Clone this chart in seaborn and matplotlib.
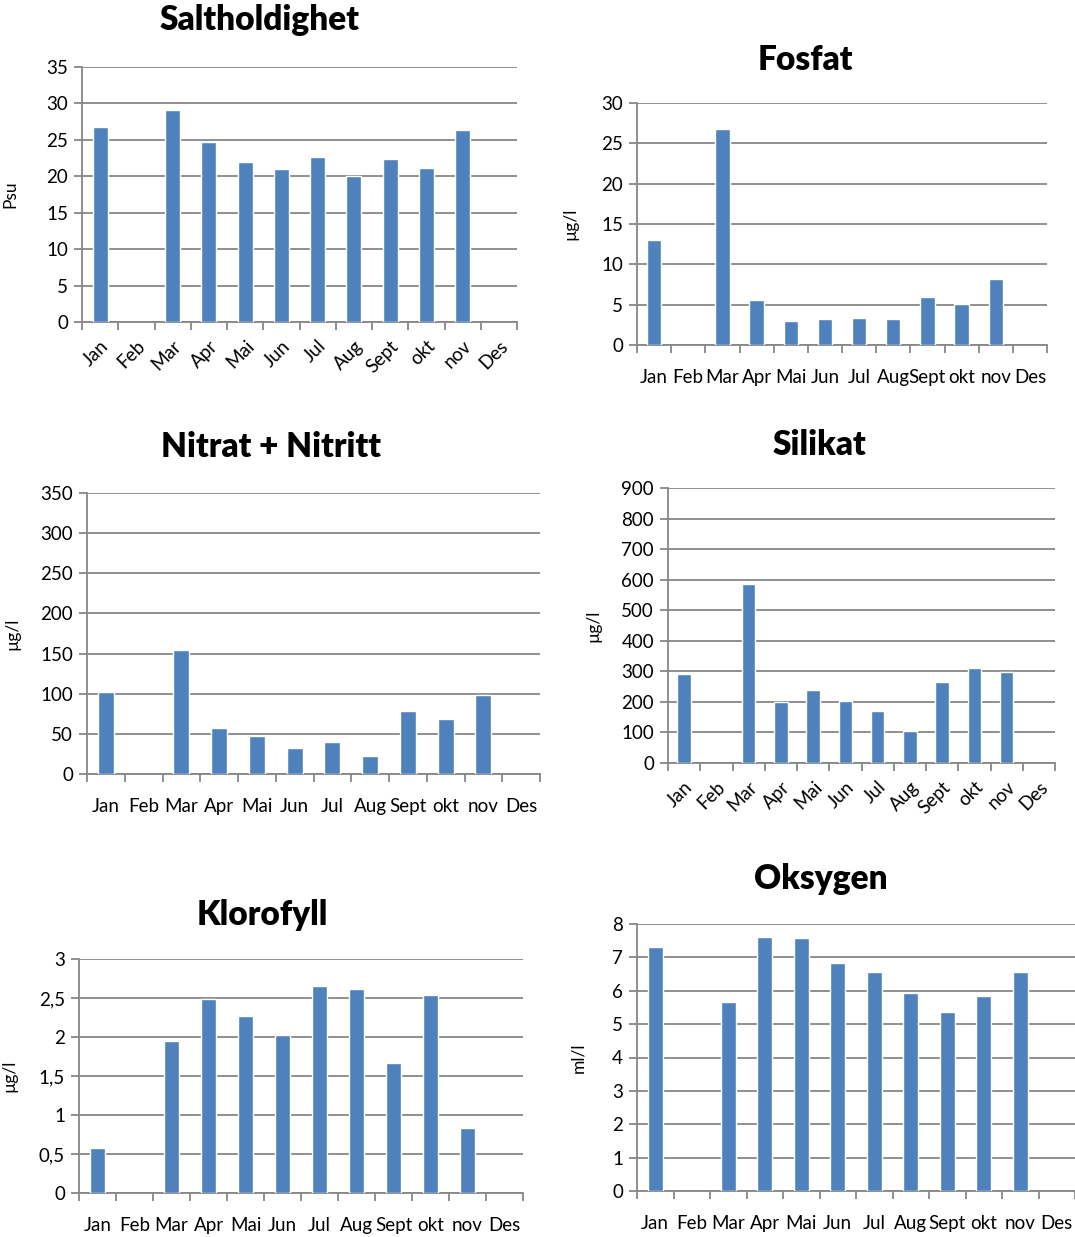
import matplotlib
matplotlib.use("Agg")
import matplotlib.pyplot as plt
import matplotlib.ticker as mticker
import seaborn as sns
import numpy as np
import pandas as pd

months = ["Jan", "Feb", "Mar", "Apr", "Mai", "Jun", "Jul", "Aug", "Sept", "okt", "nov", "Des"]
# measured months (Feb and Des have no samples)
sampled = ["Jan", "Mar", "Apr", "Mai", "Jun", "Jul", "Aug", "Sept", "okt", "nov"]

salt = [26.8, 29.1, 24.7, 22.0, 21.0, 22.6, 20.1, 22.4, 21.1, 26.3]
fosfat = [13.0, 26.8, 5.6, 3.0, 3.2, 3.4, 3.2, 5.9, 5.1, 8.2]
nitrat = [102, 154, 57, 47, 32, 40, 23, 78, 68, 99]
silikat = [292, 585, 200, 238, 202, 170, 105, 265, 310, 297]
klorofyll = [0.58, 1.95, 2.49, 2.27, 2.02, 2.65, 2.61, 1.67, 2.54, 0.83]
oksygen = [7.3, 5.67, 7.62, 7.57, 6.82, 6.56, 5.93, 5.37, 5.85, 6.56]

W, H = 1075, 1237
BAR = "#4F81BD"
GRID = "#878787"

sns.set_theme(style="white")
plt.rcParams["font.family"] = ["Lato", "DejaVu Sans"]

fig = plt.figure(figsize=(W / 100, H / 100), dpi=100)


def panel(values, title, ylabel, box, ymax, ystep, title_xy, ylabel_x,
          rotate=False, comma=False):
    left, top, right, bottom = box
    ax = fig.add_axes([left / W, 1 - bottom / H, (right - left) / W, (bottom - top) / H])
    df = pd.DataFrame({"month": sampled, "value": values})
    sns.barplot(data=df, x="month", y="value", order=months, color=BAR,
                width=0.42, saturation=1, ax=ax, zorder=3)
    ax.set_xlim(-0.5, 11.5)
    ax.set_ylim(0, ymax)
    ax.set_yticks(np.arange(0, ymax + ystep / 2, ystep))
    if comma:
        ax.yaxis.set_major_formatter(mticker.FuncFormatter(
            lambda v, p: ("%g" % v).replace(".", ",")))
    ax.yaxis.grid(True, color=GRID, linewidth=1.3, zorder=0)
    for s in ["top", "right"]:
        ax.spines[s].set_visible(False)
    for s in ["left", "bottom"]:
        ax.spines[s].set_color(GRID)
        ax.spines[s].set_linewidth(1.3)
    ax.set_xticks(np.arange(-0.5, 12, 1), minor=True)
    ax.tick_params(axis="x", which="minor", length=6, width=1.3, color=GRID,
                   direction="out", bottom=True)
    ax.tick_params(axis="x", which="major", length=0, pad=17, labelsize=13.5,
                   labelcolor="black")
    ax.tick_params(axis="y", length=6, width=1.3, color=GRID, direction="out",
                   left=True, labelsize=13.5, labelcolor="black", pad=4)
    if rotate:
        for lab in ax.get_xticklabels():
            lab.set_rotation(45)
            lab.set_ha("right")
            lab.set_va("top")
            lab.set_rotation_mode("anchor")
        ax.tick_params(axis="x", which="major", pad=11)
    ax.set_xlabel("")
    ax.set_ylabel(ylabel, fontsize=12.5, color="black")
    ax.yaxis.set_label_coords((ylabel_x - left) / (right - left), 0.5)
    fig.text(title_xy[0] / W, 1 - title_xy[1] / H, title, ha="center",
             va="center", fontsize=24, fontweight="heavy", color="black")
    return ax


panel(salt, "Saltholdighet", "Psu", (82, 67, 517, 322), 35, 5, (260, 20), 18, rotate=True)
panel(fosfat, "Fosfat", "µg/l", (637, 103, 1047, 345), 30, 5, (805, 60), 578)
panel(nitrat, "Nitrat + Nitritt", "µg/l", (87, 493, 540, 774), 350, 50, (271, 447), 20)
panel(silikat, "Silikat", "µg/l", (668, 488, 1055, 763), 900, 100, (819, 445), 601, rotate=True)
panel(klorofyll, "Klorofyll", "µg/l", (79, 959, 523, 1193), 3, 0.5, (262, 915), 17, comma=True)
panel(oksygen, "Oksygen", "ml/l", (637, 924, 1075, 1191), 8, 1, (821, 879), 586)

fig.savefig("out.png", dpi=100)
